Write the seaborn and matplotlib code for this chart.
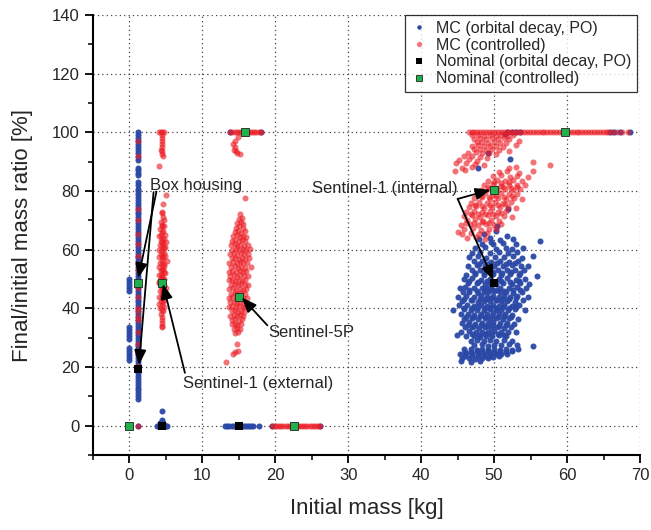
import matplotlib
matplotlib.use('Agg')
import matplotlib.pyplot as plt
import seaborn as sns
import pandas as pd
from matplotlib.lines import Line2D
from matplotlib.ticker import MultipleLocator

# ------------------------------------------------------------------ data
series_labels = ['MC (orbital decay, PO)', 'MC (controlled)',
                 'Nominal (orbital decay, PO)', 'Nominal (controlled)']

# --- MC, orbital decay (PO) ---------------------------------------------
box_mass = 1.1
box_po_col_y = [100, 99, 98, 97, 96, 95, 94, 93, 91.5, 90.5, 88, 87, 86, 85.3, 83, 82,
                80.8, 80, 79, 78, 77, 76, 75, 74, 73, 72, 71, 70, 69, 68, 67, 66, 65,
                64, 63, 62, 61, 60, 59, 58, 57, 56, 55, 54, 53, 52, 51, 50, 49, 48, 47,
                46, 45, 44, 43, 42, 41, 40, 39, 38, 37, 36, 35, 34, 33, 32, 31, 30, 29,
                28, 27, 26, 25, 24, 23, 22, 21, 20, 19, 18, 17, 16, 15, 14, 13, 12, 11,
                10, 9.2]
box_po_zero_mass_y = [46, 47, 48, 49, 50, 29.5, 30.5, 31.5, 32.5, 33.5,
                      22.5, 23.5, 24.5, 25.5, 26.5]
po_misc = [(1.1, 0.0), (3.8, 0), (4.0, 0), (4.2, 0), (4.4, 0), (4.6, 0), (4.8, 0),
           (5.0, 0), (5.2, 0), (4.2, 1.0), (4.4, 1.2), (4.6, 1.0), (4.4, 2.0),
           (4.5, 4.9), (17.7, 0), (19.6, 0), (26.1, 0), (13.8, 100), (18.0, 100),
           (49.2, 92.8), (47.8, 88.0), (51.5, 99.6), (51.9, 74.0), (50.4, 68.0),
           (49.6, 62.5), (52.2, 91.0)]
s5p_po_zero_x = [13.1, 13.4, 13.7, 14.0, 14.3, 14.6, 14.9, 15.2, 15.5, 15.8, 16.1,
                 16.4, 16.7, 16.9]
s1i_po_full_x = [51.8, 52.4, 53.0, 53.6, 65.9, 66.5, 67.3, 68.6]
s1i_po_cloud = [
    (50.3, 66.5), (48.6, 65.2), (51.8, 64.8),
    (47.9, 63.5), (49.5, 63.9), (50.8, 63.2), (52.6, 63.6), (56.3, 63.0),
    (48.3, 62.0), (49.9, 61.8), (51.2, 62.3), (53.0, 61.9),
    (47.4, 60.5), (48.8, 60.8), (50.2, 60.3), (51.6, 60.6), (52.4, 60.2), (54.0, 60.7),
    (47.0, 59.0), (48.1, 59.3), (49.4, 58.8), (50.7, 59.1), (51.9, 58.9), (53.2, 59.2),
    (46.6, 57.5), (47.8, 57.8), (48.9, 57.3), (50.1, 57.6), (51.3, 57.4), (52.6, 57.7),
    (53.8, 57.3), (55.3, 57.9),
    (47.2, 56.0), (48.4, 56.3), (49.6, 55.8), (50.8, 56.1), (52.0, 55.9), (53.3, 56.2),
    (46.4, 54.5), (47.6, 54.7), (48.8, 54.3), (50.0, 54.6), (51.2, 54.4), (52.4, 54.8),
    (53.7, 54.4), (54.6, 54.6),
    (46.9, 53.0), (48.1, 53.2), (49.3, 52.8), (50.5, 53.1), (51.7, 52.9), (52.9, 53.2),
    (54.1, 52.9),
    (46.2, 51.5), (47.4, 51.7), (48.6, 51.3), (49.8, 51.6), (51.0, 51.4), (52.2, 51.8),
    (53.4, 51.3), (55.9, 51.0),
    (45.8, 50.0), (47.0, 50.2), (48.2, 49.8), (49.4, 50.1), (50.6, 49.9), (51.8, 50.3),
    (53.0, 49.8), (54.2, 50.1),
    (46.4, 48.5), (47.6, 48.7), (48.8, 48.3), (49.4, 48.6), (50.3, 48.4), (51.2, 48.8),
    (52.4, 48.4), (53.6, 48.6), (54.8, 48.3),
    (45.3, 47.0), (46.0, 47.2), (47.2, 46.8), (48.4, 47.1), (49.0, 46.9), (49.6, 47.3),
    (50.8, 47.0), (52.0, 46.8), (53.2, 47.2), (54.4, 46.9),
    (45.7, 45.5), (46.6, 45.7), (47.8, 45.3), (48.6, 45.6), (49.2, 45.4), (50.0, 45.8),
    (50.8, 45.4), (51.6, 45.6), (52.6, 45.3), (53.8, 45.7),
    (45.1, 44.0), (46.2, 44.2), (47.3, 43.8), (48.2, 44.1), (49.0, 43.9), (49.8, 44.3),
    (50.6, 43.9), (51.4, 44.1), (52.2, 43.8), (53.2, 44.2), (54.6, 44.0),
    (45.6, 42.5), (46.8, 42.7), (47.8, 42.3), (48.6, 42.6), (49.4, 42.4), (50.2, 42.8),
    (51.0, 42.4), (51.8, 42.6), (52.8, 42.3), (53.9, 42.7),
    (45.2, 41.0), (46.3, 41.2), (47.3, 40.8), (48.2, 41.1), (49.0, 40.9), (49.8, 41.3),
    (50.6, 40.9), (51.4, 41.1), (52.4, 40.8), (53.4, 41.2),
    (44.4, 39.5), (45.8, 39.7), (46.8, 39.3), (47.7, 39.6), (48.6, 39.4), (49.4, 39.8),
    (50.2, 39.4), (51.0, 39.6), (51.9, 39.3), (52.9, 39.7), (54.2, 39.5),
    (45.4, 38.0), (46.4, 38.2), (47.3, 37.8), (48.2, 38.1), (49.0, 37.9), (49.8, 38.3),
    (50.6, 37.9), (51.5, 38.1), (52.5, 37.8),
    (45.9, 36.5), (46.9, 36.7), (47.8, 36.3), (48.7, 36.6), (49.5, 36.4), (50.3, 36.8),
    (51.2, 36.4), (52.1, 36.6), (53.3, 36.3),
    (45.6, 35.0), (46.5, 35.2), (47.4, 34.8), (48.3, 35.1), (49.1, 34.9), (49.9, 35.3),
    (50.8, 34.9), (51.7, 35.1), (52.7, 34.8),
    (46.0, 33.5), (47.0, 33.7), (47.9, 33.3), (48.8, 33.6), (49.6, 33.4), (50.4, 33.8),
    (51.3, 33.4), (52.3, 33.6),
    (45.4, 32.0), (46.6, 32.2), (47.5, 31.8), (48.4, 32.1), (49.2, 31.9), (50.0, 32.3),
    (50.9, 31.9), (51.9, 32.1), (53.0, 31.8),
    (44.9, 31.0), (46.2, 30.5), (47.2, 30.7), (48.0, 30.3), (48.9, 30.6), (49.7, 30.4),
    (50.6, 30.8), (51.6, 30.4),
    (46.8, 29.0), (47.7, 29.2), (48.6, 28.8), (49.4, 29.1), (50.3, 28.9), (51.3, 29.3),
    (52.4, 28.9),
    (47.3, 27.5), (48.3, 27.7), (49.1, 27.3), (50.0, 27.6), (51.0, 27.4), (52.0, 27.8),
    (53.1, 27.4), (55.3, 27.3),
    (45.9, 26.0), (46.8, 26.2), (47.6, 25.8), (48.4, 26.1), (49.2, 25.9), (50.0, 26.3),
    (50.8, 25.9), (51.6, 26.1), (52.5, 25.8), (53.3, 26.2),
    (45.3, 24.5), (46.2, 24.7), (47.0, 24.3), (47.8, 24.6), (48.6, 24.4), (49.4, 24.8),
    (50.2, 24.4), (51.0, 24.6), (51.8, 24.3),
    (45.6, 23.0), (46.5, 23.2), (47.4, 22.8), (48.3, 23.1), (49.1, 22.9), (49.9, 23.3),
    (45.4, 22.0), (46.8, 21.8), (48.0, 22.1),
]
s1i_po_core = [
    (47.9, 55.2), (49.1, 55.0), (50.4, 55.3), (51.6, 55.1), (52.8, 55.4),
    (47.4, 52.2), (48.6, 52.0), (49.9, 52.3), (51.1, 52.1), (52.3, 52.4), (53.6, 52.1),
    (46.6, 49.2), (47.8, 49.0), (49.0, 49.4), (50.0, 49.1), (51.0, 49.3), (52.2, 49.0),
    (53.4, 49.3),
    (46.5, 46.2), (47.6, 46.0), (48.8, 46.3), (49.6, 46.1), (50.4, 46.4), (51.4, 46.0),
    (52.6, 46.3), (53.6, 46.1),
    (45.8, 43.2), (46.9, 43.0), (48.0, 43.3), (48.9, 43.1), (49.6, 43.4), (50.4, 43.0),
    (51.2, 43.3), (52.0, 43.1), (53.0, 43.4),
    (45.9, 40.2), (46.9, 40.0), (47.8, 40.3), (48.7, 40.1), (49.5, 40.4), (50.3, 40.0),
    (51.2, 40.3), (52.1, 40.1), (53.0, 40.4),
    (46.2, 37.2), (47.1, 37.0), (48.0, 37.3), (48.9, 37.1), (49.7, 37.4), (50.5, 37.0),
    (51.4, 37.3), (52.3, 37.1),
    (46.4, 34.2), (47.3, 34.0), (48.2, 34.3), (49.0, 34.1), (49.8, 34.4), (50.7, 34.0),
    (51.6, 34.3),
    (47.0, 31.2), (47.9, 31.0), (48.8, 31.3), (49.6, 31.1), (50.5, 31.4), (51.4, 31.0),
    (46.0, 25.2), (46.8, 25.0), (47.6, 25.3), (48.4, 25.1), (49.2, 25.4), (50.0, 25.0),
    (50.8, 25.3), (51.6, 25.1), (52.4, 25.4),
    (46.0, 23.8), (46.9, 23.6), (47.8, 23.9), (48.7, 23.7), (49.5, 23.9), (50.6, 23.6),
]

# --- MC, controlled ------------------------------------------------------
box_ctrl_col_y = [97, 92, 74, 70, 65.5, 62, 58, 55, 53, 47, 44, 40, 39, 37, 36,
                  32, 28, 24.5, 20.5]
box_ctrl_misc = [(1.1, 0.0), (4.1, 100), (4.3, 100), (4.5, 100), (4.7, 100),
                 (4.4, 99), (4.5, 98), (4.4, 97), (4.5, 96), (4.4, 95), (4.3, 94),
                 (4.5, 93.5), (4.4, 92.5), (4.6, 92), (4.1, 88.4), (5.0, 78.5)]
s1e_ctrl_cloud = [
    (4.6, 75.5), (4.5, 73), (4.4, 72.5), (4.6, 71), (4.7, 70), (4.3, 69.5), (4.5, 68.5),
    (4.8, 68), (4.2, 67), (4.6, 66.5), (4.4, 66), (4.9, 65), (4.1, 64.5), (4.5, 64),
    (4.7, 63.5), (4.3, 63), (5.0, 62.5), (4.6, 62), (4.2, 61.5), (4.4, 61), (4.8, 60.5),
    (4.0, 60), (4.5, 59.5), (4.7, 59), (4.3, 58.5), (4.9, 58), (4.1, 57.5), (4.6, 57),
    (4.4, 56.5), (5.1, 56), (4.2, 55.5), (4.5, 55), (4.8, 54.5), (4.0, 54), (4.6, 53.5),
    (4.3, 53), (4.7, 52.5), (4.9, 52), (4.1, 51.5), (4.5, 51), (4.4, 50.5), (4.8, 50),
    (4.2, 49.5), (4.6, 49), (4.0, 48.5), (4.7, 48), (4.3, 47.5), (5.0, 47), (4.5, 46.5),
    (4.2, 46), (4.6, 45.5), (4.4, 45), (4.8, 44.5), (4.1, 44), (4.5, 43.5), (4.7, 43),
    (4.3, 42.5), (4.6, 42), (4.0, 41.5), (4.4, 41), (4.8, 40.5), (4.2, 40), (4.5, 39.5),
    (4.6, 39), (4.3, 38), (4.5, 37), (4.4, 36), (4.5, 35), (4.4, 34), (4.5, 33.5),
    (4.5, 68), (4.5, 62.5), (4.5, 58), (4.5, 53), (4.5, 48), (4.5, 44), (4.3, 65),
    (4.7, 55), (4.7, 46), (4.3, 51.5), (4.9, 61), (4.1, 49),
]
s5p_ctrl_full_x = [13.8, 14.1, 14.4, 14.7, 15.0, 15.3, 15.6, 15.9, 16.2, 16.5, 16.8,
                   17.1, 17.4, 17.7, 18.0]
s5p_ctrl_zero_x = [19.6, 19.9, 20.2, 20.5, 20.8, 21.1, 21.4, 21.7, 22.0, 22.3, 22.6,
                   22.9, 23.2, 23.5, 23.8, 24.1, 24.4, 24.7, 25.0, 25.3, 25.6, 25.9, 26.1]
s5p_ctrl_cloud = [
    (14.2, 96.0), (14.4, 95.0), (14.3, 94.0), (14.6, 93.5), (14.8, 92.8), (15.2, 92.5),
    (14.5, 97.0), (14.9, 98.5),
    (15.9, 77.5), (15.2, 72.0), (15.0, 70.5), (15.4, 70.9),
    (14.8, 69.0), (15.3, 69.4), (15.6, 68.8), (14.6, 67.5), (15.0, 67.9), (15.5, 67.3),
    (14.4, 66.0), (14.9, 66.4), (15.3, 65.8), (15.8, 66.2),
    (14.2, 64.5), (14.7, 64.9), (15.1, 64.3), (15.6, 64.7), (16.0, 64.4),
    (14.0, 63.0), (14.5, 63.3), (15.0, 62.8), (15.4, 63.2), (15.9, 62.9),
    (13.9, 61.5), (14.4, 61.8), (14.8, 61.3), (15.2, 61.7), (15.7, 61.4), (16.2, 61.6),
    (14.1, 60.0), (14.6, 60.3), (15.0, 59.8), (15.5, 60.2), (16.0, 59.9), (16.5, 60.1),
    (13.8, 58.5), (14.3, 58.8), (14.8, 58.3), (15.3, 58.7), (15.7, 58.4), (16.2, 58.6),
    (14.0, 57.0), (14.5, 57.3), (15.0, 56.8), (15.4, 57.2), (15.9, 56.9), (16.4, 57.1),
    (13.7, 55.5), (14.2, 55.8), (14.7, 55.3), (15.2, 55.7), (15.6, 55.4), (16.1, 55.6),
    (13.9, 54.0), (14.4, 54.3), (14.9, 53.8), (15.3, 54.2), (15.8, 53.9), (16.6, 54.1),
    (13.6, 52.5), (14.1, 52.8), (14.6, 52.3), (15.1, 52.7), (15.5, 52.4), (16.0, 52.6),
    (13.8, 51.0), (14.3, 51.3), (14.8, 50.8), (15.2, 51.2), (15.7, 50.9), (16.3, 51.1),
    (13.6, 49.5), (14.0, 49.8), (14.5, 49.3), (15.0, 49.7), (15.4, 49.4), (15.9, 49.6),
    (13.9, 48.0), (14.4, 48.3), (14.9, 47.8), (15.3, 48.2), (15.8, 47.9), (16.2, 48.1),
    (13.7, 46.5), (14.2, 46.8), (14.6, 46.3), (15.1, 46.7), (15.5, 46.4), (16.0, 46.6),
    (13.9, 45.0), (14.4, 45.3), (14.8, 44.8), (15.3, 45.2), (15.8, 44.9),
    (13.6, 43.5), (14.1, 43.8), (14.6, 43.3), (15.0, 43.7), (15.5, 43.4), (16.1, 43.6),
    (13.8, 42.0), (14.3, 42.3), (14.8, 41.8), (15.2, 42.2), (15.7, 41.9),
    (13.7, 40.5), (14.1, 40.8), (14.6, 40.3), (15.0, 40.7), (15.5, 40.4), (15.9, 40.6),
    (14.0, 39.0), (14.4, 39.3), (14.9, 38.8), (15.3, 39.2), (15.7, 38.9),
    (13.8, 37.5), (14.3, 37.8), (14.7, 37.3), (15.1, 37.7), (15.6, 37.4),
    (14.1, 36.0), (14.5, 36.3), (15.0, 35.8), (15.4, 36.2),
    (14.0, 34.5), (14.4, 34.8), (14.8, 34.3), (15.3, 34.7),
    (14.3, 33.0), (14.7, 33.3), (15.1, 32.8), (14.5, 31.5), (14.9, 31.8),
    (14.7, 28.0), (14.9, 25.6), (14.4, 25.0), (14.2, 24.5), (13.3, 21.6),
]
s1i_ctrl_full_x = [46.5, 46.9, 47.3, 47.7, 48.1, 48.5, 48.9, 49.3, 49.7, 50.1, 50.5,
                   50.9, 51.3, 51.7, 52.1, 52.5, 52.9, 53.3, 53.7, 54.1, 54.5, 54.9,
                   55.3, 55.7, 56.1, 56.5, 56.9, 57.3, 57.7, 58.1, 58.5, 58.9, 59.3,
                   59.7, 60.1, 60.5, 60.9, 61.3, 61.7, 62.1, 62.5, 62.9, 63.3, 63.7,
                   64.1, 64.5, 64.9, 65.3, 65.6, 66.2, 66.9, 67.6, 68.3]
s1i_ctrl_upper = [
    (47.0, 99.0), (47.8, 99.2), (48.6, 98.9), (49.4, 99.1), (50.2, 98.8), (51.0, 99.2),
    (51.8, 98.9), (52.6, 99.1),
    (47.3, 97.8), (48.1, 98.0), (48.9, 97.6), (49.7, 97.9), (50.5, 97.7), (51.3, 98.0),
    (52.1, 97.6), (53.4, 97.2),
    (47.6, 96.6), (48.4, 96.8), (49.2, 96.4), (50.0, 96.7), (50.8, 96.5), (51.6, 96.2),
    (53.0, 95.8),
    (46.9, 95.4), (47.8, 95.6), (48.6, 95.2), (49.4, 95.5), (50.2, 95.3), (51.2, 95.0),
    (47.2, 94.2), (48.1, 94.4), (48.9, 94.0), (49.7, 94.3), (50.6, 94.1), (52.0, 93.6),
    (46.4, 93.0), (47.5, 93.2), (48.4, 92.8), (49.3, 93.1), (50.3, 92.6),
    (45.9, 91.8), (47.0, 92.0), (48.0, 91.6), (49.0, 91.2),
    (45.2, 90.6), (46.6, 90.8), (47.6, 90.3),
    (44.8, 89.4), (46.2, 89.6), (47.4, 89.2), (48.6, 89.0),
    (45.6, 88.0), (46.9, 88.2), (44.6, 86.8), (46.0, 87.0),
]
s1i_ctrl_middle = [
    (55.3, 89.8), (57.6, 88.7),
    (52.0, 88.0), (53.0, 88.3),
    (50.6, 86.5), (51.8, 86.8), (53.4, 86.3), (55.3, 86.9),
    (49.8, 85.0), (51.0, 85.3), (52.2, 84.8), (53.2, 85.2), (54.6, 84.7),
    (49.2, 83.5), (50.4, 83.8), (51.5, 83.3), (52.6, 83.7), (53.8, 83.4),
    (48.6, 82.0), (49.8, 82.3), (50.9, 81.8), (52.0, 82.2), (53.1, 81.9), (54.2, 82.1),
    (48.2, 80.5), (49.3, 80.8), (50.4, 80.3), (51.5, 80.7), (52.6, 80.4), (53.6, 80.6),
    (47.6, 79.0), (48.7, 79.3), (49.8, 78.8), (50.9, 79.2), (52.0, 78.9), (53.1, 79.1),
    (47.2, 77.5), (48.3, 77.8), (49.4, 77.3), (50.5, 77.7), (51.6, 77.4), (52.7, 77.6),
    (53.8, 77.3),
    (46.8, 76.0), (47.9, 76.3), (49.0, 75.8), (50.1, 76.2), (51.2, 75.9), (52.3, 76.1),
    (46.5, 74.5), (47.5, 74.8), (48.6, 74.3), (49.7, 74.7), (50.8, 74.4), (51.9, 74.6),
    (53.0, 74.3),
    (46.2, 73.0), (47.2, 73.3), (48.3, 72.8), (49.4, 73.2), (50.5, 72.9), (51.6, 73.1),
    (45.8, 71.5), (46.9, 71.8), (48.0, 71.3), (49.1, 71.7), (50.2, 71.4), (51.3, 71.6),
    (52.4, 71.3),
    (46.3, 70.0), (47.4, 70.3), (48.5, 69.8), (49.6, 70.2), (50.7, 69.9),
    (45.5, 68.5), (46.7, 68.8), (47.8, 68.3), (48.9, 68.7), (50.0, 68.4), (51.0, 68.6),
    (45.9, 67.0), (47.1, 67.3), (48.2, 66.8), (49.3, 67.2), (50.2, 66.9),
    (45.6, 65.5), (46.8, 65.8), (47.9, 65.3), (49.0, 65.7),
    (46.3, 64.0), (47.5, 64.3), (48.7, 63.8), (45.0, 66.0),
]
s1i_ctrl_core = [
    (50.0, 83.0), (51.0, 82.8), (52.0, 83.1),
    (49.2, 81.2), (50.2, 81.0), (51.2, 81.3), (52.3, 81.1), (53.2, 81.4),
    (48.2, 78.2), (49.3, 78.0), (50.3, 78.3), (51.4, 78.1), (52.4, 78.4),
    (47.4, 75.2), (48.4, 75.0), (49.5, 75.3), (50.5, 75.1), (51.5, 75.4),
    (46.8, 72.2), (47.8, 72.0), (48.8, 72.3), (49.9, 72.1), (50.9, 72.4),
    (46.2, 69.2), (47.3, 69.0), (48.3, 69.3), (49.3, 69.1),
]

# --- Nominal cases --------------------------------------------------------
nominal_po_mass = [1.1, 4.4, 15.0, 50.0]
nominal_po_ratio = [19.4, 0.0, 0.0, 48.8]
nominal_ctrl_mass = [0.0, 1.1, 4.4, 15.0, 15.8, 22.6, 50.0, 59.7]
nominal_ctrl_ratio = [0.0, 48.8, 48.8, 44.0, 100.0, 0.0, 80.5, 100.0]

# ------------------------------------------------------------------ tables
po_pts = ([(box_mass, y) for y in box_po_col_y]
          + [(0.0, y) for y in box_po_zero_mass_y]
          + po_misc
          + [(x, 0.0) for x in s5p_po_zero_x]
          + [(x, 100.0) for x in s1i_po_full_x]
          + s1i_po_cloud + s1i_po_core)
ctrl_pts = ([(box_mass, y) for y in box_ctrl_col_y]
            + box_ctrl_misc + s1e_ctrl_cloud
            + [(x, 100.0) for x in s5p_ctrl_full_x]
            + [(x, 0.0) for x in s5p_ctrl_zero_x]
            + s5p_ctrl_cloud
            + [(x, 100.0) for x in s1i_ctrl_full_x]
            + s1i_ctrl_upper + s1i_ctrl_middle + s1i_ctrl_core)
df_po = pd.DataFrame(po_pts, columns=['mass', 'ratio'])
df_ctrl = pd.DataFrame(ctrl_pts, columns=['mass', 'ratio'])
df_nom_po = pd.DataFrame({'mass': nominal_po_mass, 'ratio': nominal_po_ratio})
df_nom_ctrl = pd.DataFrame({'mass': nominal_ctrl_mass, 'ratio': nominal_ctrl_ratio})

# ------------------------------------------------------------------ style
BLUE = '#2a48a6'
RED = '#ec1c24'
GREEN = '#21b04b'

sns.set_style('white')
plt.rcParams['font.family'] = ['Liberation Sans', 'DejaVu Sans']

fig = plt.figure(figsize=(6.51, 5.30), dpi=100)
ax = fig.add_axes([0.1429, 0.1415, 0.8402, 0.8302])

sns.scatterplot(data=df_po, x='mass', y='ratio', ax=ax, color=BLUE, s=19,
                linewidth=0, alpha=0.95, zorder=2, legend=False)
sns.scatterplot(data=df_ctrl, x='mass', y='ratio', ax=ax, color=RED, s=19,
                linewidth=0, alpha=0.62, zorder=3, legend=False)
sns.scatterplot(data=df_nom_po, x='mass', y='ratio', ax=ax, color='black',
                marker='s', s=30, linewidth=0, zorder=4, legend=False)
sns.scatterplot(data=df_nom_ctrl, x='mass', y='ratio', ax=ax, color=GREEN,
                marker='s', s=28, edgecolor='#222222', linewidth=0.6, zorder=5,
                legend=False)

ax.set_xlim(-5, 70)
ax.set_ylim(-10, 140)
ax.set_xticks(range(0, 71, 10))
ax.set_yticks(range(0, 141, 20))
ax.xaxis.set_minor_locator(MultipleLocator(5))
ax.yaxis.set_minor_locator(MultipleLocator(10))
ax.tick_params(which='major', direction='out', length=6, width=1.3,
               labelsize=12, color='black', bottom=True, left=True)
ax.tick_params(which='minor', direction='out', length=3.5, width=1.1,
               color='black', bottom=True, left=True)
for side in ['top', 'right']:
    ax.spines[side].set_visible(False)
for side in ['left', 'bottom']:
    ax.spines[side].set_color('black')
    ax.spines[side].set_linewidth(1.5)
ax.grid(True, which='major', linestyle=(0, (1, 2.5)), color='#444444', linewidth=0.9)
ax.set_axisbelow(True)

ax.set_xlabel('Initial mass [kg]', fontsize=16, labelpad=11)
ax.set_ylabel('Final/initial mass ratio [%]', fontsize=16, labelpad=14)

# ------------------------------------------------------------------ annotations
arrow = dict(arrowstyle='-|>,head_length=0.75,head_width=0.3', color='black',
             lw=1.3, shrinkA=0, shrinkB=0, mutation_scale=12)
ax.text(2.8, 82.0, 'Box housing', fontsize=12, ha='left', va='center', zorder=7)
ax.annotate('', xy=(1.2, 50.3), xytext=(3.7, 79.8), arrowprops=arrow, zorder=7)
ax.annotate('', xy=(1.3, 20.7), xytext=(3.3, 79.6), arrowprops=arrow, zorder=7)
ax.text(7.3, 14.5, 'Sentinel-1 (external)', fontsize=12, ha='left', va='center', zorder=7)
ax.annotate('', xy=(4.6, 48.3), xytext=(7.6, 18.0), arrowprops=arrow, zorder=7)
ax.text(19.0, 31.7, 'Sentinel-5P', fontsize=12, ha='left', va='center', zorder=7)
ax.annotate('', xy=(15.4, 43.7), xytext=(18.9, 34.2), arrowprops=arrow, zorder=7)
ax.text(45.0, 81.0, 'Sentinel-1 (internal)', fontsize=12, ha='right', va='center', zorder=7)
ax.annotate('', xy=(49.5, 80.4), xytext=(45.0, 77.3), arrowprops=arrow, zorder=7)
ax.annotate('', xy=(49.9, 49.6), xytext=(45.0, 77.3), arrowprops=arrow, zorder=7)

# ------------------------------------------------------------------ legend
handles = [
    Line2D([], [], ls='none', marker='o', ms=3.2, color=BLUE, mew=0),
    Line2D([], [], ls='none', marker='o', ms=3.8, color=RED, alpha=0.6, mew=0),
    Line2D([], [], ls='none', marker='s', ms=5, color='black', mew=0),
    Line2D([], [], ls='none', marker='s', ms=5, markerfacecolor=GREEN,
           markeredgecolor='#222222', mew=0.6),
]
leg = ax.legend(handles, series_labels, loc='upper right', bbox_to_anchor=(0.995, 1.0),
                frameon=True, fancybox=False, edgecolor='black', fontsize=11.5,
                handlelength=1.0, handletextpad=0.6, labelspacing=0.12,
                borderpad=0.35, borderaxespad=0)
leg.get_frame().set_linewidth(0.9)
leg.set_zorder(10)

fig.savefig('out.png', dpi=100)
